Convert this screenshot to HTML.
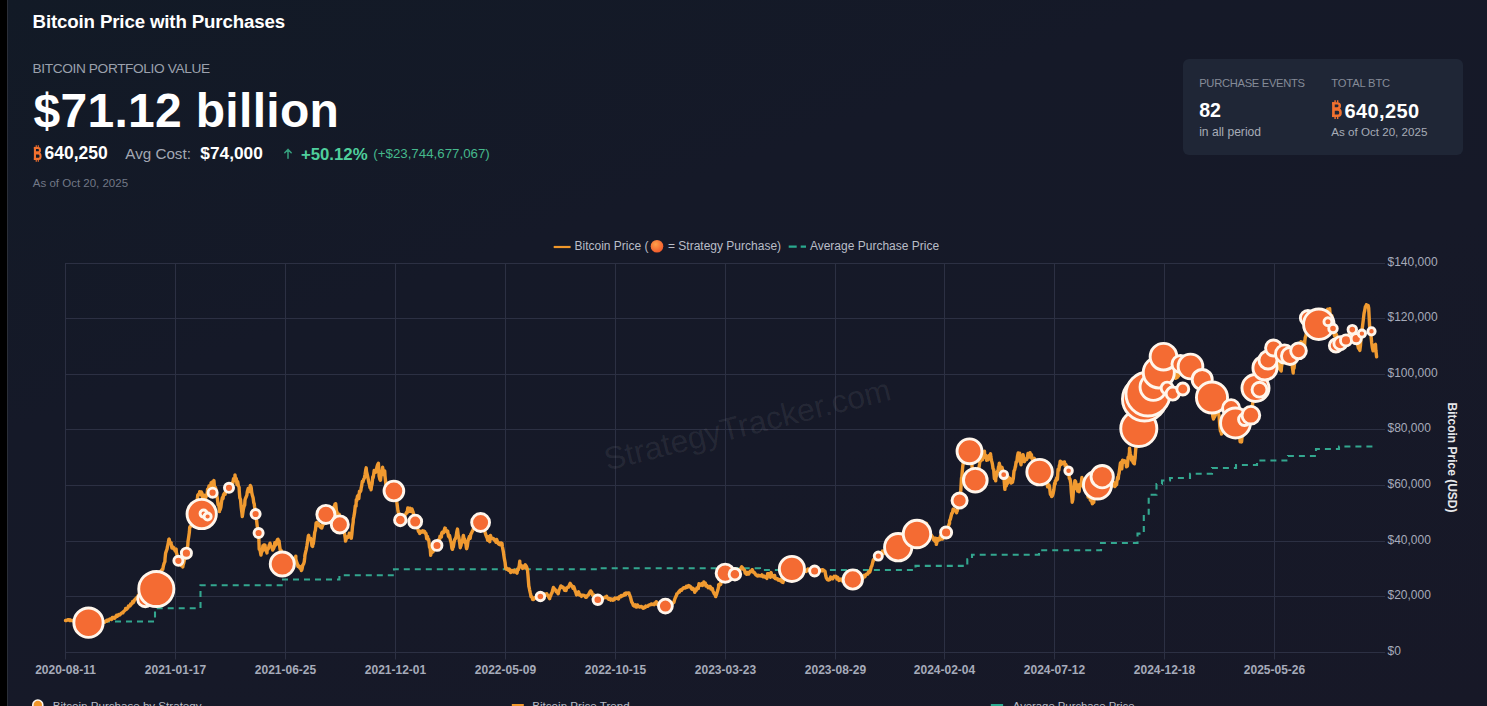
<!DOCTYPE html>
<html><head><meta charset="utf-8"><style>
html,body{margin:0;padding:0;}
body{width:1487px;height:706px;overflow:hidden;background:#161929;background-image:linear-gradient(160deg,#121a26 0%,#151928 35%,#161928 60%,#171827 100%);position:relative;font-family:"Liberation Sans",sans-serif;}
.strip{position:absolute;left:0;top:0;width:7px;height:706px;background:#000;}
.edge{position:absolute;left:7px;top:0;width:1px;height:706px;background:#2a2e38;}
.t{position:absolute;white-space:nowrap;line-height:1;}
.card{position:absolute;left:1183px;top:59px;width:280px;height:96px;border-radius:6px;background:#1f2636;}
</style></head><body>
<div class="strip"></div><div class="edge"></div>
<div class="t" style="left:32.6px;top:13px;font-size:18.7px;letter-spacing:-0.15px;font-weight:bold;color:#ffffff">Bitcoin Price with Purchases</div>
<div class="t" style="left:32.6px;top:62px;font-size:13.7px;letter-spacing:-0.38px;color:#9ba1ad">BITCOIN PORTFOLIO VALUE</div>
<div class="t" style="left:33.5px;top:87px;font-size:48px;letter-spacing:0.3px;font-weight:bold;color:#ffffff">$71.12 billion</div>
<svg style="position:absolute;left:32.8px;top:144.8px" width="8.8" height="16.9" viewBox="0 0 10 18" preserveAspectRatio="none"><g fill="none" stroke="#f2712f" stroke-linecap="butt"><path d="M2.2 2 V16" stroke-width="2.4"/><path d="M1 3.15 H5.8 Q7.9 3.15 7.9 5.5 Q7.9 7.9 5.8 7.9 H2.2 M2.2 9 H6.2 Q8.6 9 8.6 11.9 Q8.6 14.85 6.2 14.85 H1" stroke-width="2.3"/><path d="M3.7 0.2 V2.5 M6 0.2 V2.5 M3.7 15.5 V17.8 M6 15.5 V17.8" stroke-width="1.3"/></g></svg>
<div class="t" style="left:44.5px;top:145px;font-size:17.5px;font-weight:bold;color:#ffffff">640,250</div>
<div class="t" style="left:125.3px;top:146px;font-size:15.2px;color:#a3a8b3">Avg Cost:</div>
<div class="t" style="left:200.3px;top:145px;font-size:17.3px;font-weight:bold;color:#ffffff">$74,000</div>
<svg style="position:absolute;left:280px;top:144px" width="16" height="18"><path d="M8 14.2 V5.5 M4.8 8.8 L8 5.4 L11.2 8.8" fill="none" stroke="#36a07e" stroke-width="1.5" stroke-linecap="round" stroke-linejoin="round"/></svg>
<div class="t" style="left:300.9px;top:146.5px;font-size:16.8px;font-weight:bold;color:#4fcf9c">+50.12%</div>
<div class="t" style="left:373.3px;top:147px;font-size:13.3px;color:#45b88c">(+$23,744,677,067)</div>
<div class="t" style="left:32.8px;top:178px;font-size:11.5px;color:#727886">As of Oct 20, 2025</div>
<div class="card"></div>
<div class="t" style="left:1199.2px;top:78px;font-size:11.2px;letter-spacing:-0.3px;color:#858b98">PURCHASE EVENTS</div>
<div class="t" style="left:1331.3px;top:78px;font-size:11.2px;letter-spacing:-0.15px;color:#858b98">TOTAL BTC</div>
<div class="t" style="left:1199.2px;top:101px;font-size:19.6px;font-weight:bold;color:#ffffff">82</div>
<svg style="position:absolute;left:1331.3px;top:100.4px" width="11.1" height="19.2" viewBox="0 0 10 18" preserveAspectRatio="none"><g fill="none" stroke="#f2712f" stroke-linecap="butt"><path d="M2.2 2 V16" stroke-width="2.4"/><path d="M1 3.15 H5.8 Q7.9 3.15 7.9 5.5 Q7.9 7.9 5.8 7.9 H2.2 M2.2 9 H6.2 Q8.6 9 8.6 11.9 Q8.6 14.85 6.2 14.85 H1" stroke-width="2.3"/><path d="M3.7 0.2 V2.5 M6 0.2 V2.5 M3.7 15.5 V17.8 M6 15.5 V17.8" stroke-width="1.3"/></g></svg>
<div class="t" style="left:1344.5px;top:101px;font-size:20px;letter-spacing:0.4px;font-weight:bold;color:#ffffff">640,250</div>
<div class="t" style="left:1199.2px;top:126px;font-size:12.1px;color:#a7acb7">in all period</div>
<div class="t" style="left:1331.3px;top:126px;font-size:11.6px;color:#a7acb7">As of Oct 20, 2025</div>
<svg width="1487" height="706" viewBox="0 0 1487 706" style="position:absolute;left:0;top:0"><line x1="65" y1="263.5" x2="1385" y2="263.5" stroke="#2c3043" stroke-width="1"/><line x1="65" y1="318.5" x2="1385" y2="318.5" stroke="#2c3043" stroke-width="1"/><line x1="65" y1="374.5" x2="1385" y2="374.5" stroke="#2c3043" stroke-width="1"/><line x1="65" y1="429.5" x2="1385" y2="429.5" stroke="#2c3043" stroke-width="1"/><line x1="65" y1="485.5" x2="1385" y2="485.5" stroke="#2c3043" stroke-width="1"/><line x1="65" y1="541.5" x2="1385" y2="541.5" stroke="#2c3043" stroke-width="1"/><line x1="65" y1="596.5" x2="1385" y2="596.5" stroke="#2c3043" stroke-width="1"/><line x1="65" y1="652.5" x2="1385" y2="652.5" stroke="#2c3043" stroke-width="1"/><line x1="65.5" y1="263" x2="65.5" y2="659.5" stroke="#2c3043" stroke-width="1"/><line x1="175.5" y1="263" x2="175.5" y2="659.5" stroke="#2c3043" stroke-width="1"/><line x1="285.5" y1="263" x2="285.5" y2="659.5" stroke="#2c3043" stroke-width="1"/><line x1="395.5" y1="263" x2="395.5" y2="659.5" stroke="#2c3043" stroke-width="1"/><line x1="505.5" y1="263" x2="505.5" y2="659.5" stroke="#2c3043" stroke-width="1"/><line x1="615.5" y1="263" x2="615.5" y2="659.5" stroke="#2c3043" stroke-width="1"/><line x1="725.5" y1="263" x2="725.5" y2="659.5" stroke="#2c3043" stroke-width="1"/><line x1="835.5" y1="263" x2="835.5" y2="659.5" stroke="#2c3043" stroke-width="1"/><line x1="944.5" y1="263" x2="944.5" y2="659.5" stroke="#2c3043" stroke-width="1"/><line x1="1054.5" y1="263" x2="1054.5" y2="659.5" stroke="#2c3043" stroke-width="1"/><line x1="1164.5" y1="263" x2="1164.5" y2="659.5" stroke="#2c3043" stroke-width="1"/><line x1="1274.5" y1="263" x2="1274.5" y2="659.5" stroke="#2c3043" stroke-width="1"/><text x="750" y="435" transform="rotate(-14 750 435)" text-anchor="middle" font-family="Liberation Sans" font-size="32" fill="#ffffff" fill-opacity="0.07">StrategyTracker.com</text><text x="1387.5" y="265.9" font-family="Liberation Sans" font-size="12" fill="#a6abba">$140,000</text><text x="1387.5" y="320.9" font-family="Liberation Sans" font-size="12" fill="#a6abba">$120,000</text><text x="1387.5" y="376.9" font-family="Liberation Sans" font-size="12" fill="#a6abba">$100,000</text><text x="1387.5" y="431.9" font-family="Liberation Sans" font-size="12" fill="#a6abba">$80,000</text><text x="1387.5" y="487.9" font-family="Liberation Sans" font-size="12" fill="#a6abba">$60,000</text><text x="1387.5" y="543.9" font-family="Liberation Sans" font-size="12" fill="#a6abba">$40,000</text><text x="1387.5" y="598.9" font-family="Liberation Sans" font-size="12" fill="#a6abba">$20,000</text><text x="1387.5" y="654.9" font-family="Liberation Sans" font-size="12" fill="#a6abba">$0</text><text x="65.5" y="673.8" text-anchor="middle" font-family="Liberation Sans" font-size="12" font-weight="bold" fill="#a6abba">2020-08-11</text><text x="175.5" y="673.8" text-anchor="middle" font-family="Liberation Sans" font-size="12" font-weight="bold" fill="#a6abba">2021-01-17</text><text x="285.5" y="673.8" text-anchor="middle" font-family="Liberation Sans" font-size="12" font-weight="bold" fill="#a6abba">2021-06-25</text><text x="395.5" y="673.8" text-anchor="middle" font-family="Liberation Sans" font-size="12" font-weight="bold" fill="#a6abba">2021-12-01</text><text x="505.5" y="673.8" text-anchor="middle" font-family="Liberation Sans" font-size="12" font-weight="bold" fill="#a6abba">2022-05-09</text><text x="615.5" y="673.8" text-anchor="middle" font-family="Liberation Sans" font-size="12" font-weight="bold" fill="#a6abba">2022-10-15</text><text x="725.5" y="673.8" text-anchor="middle" font-family="Liberation Sans" font-size="12" font-weight="bold" fill="#a6abba">2023-03-23</text><text x="835.5" y="673.8" text-anchor="middle" font-family="Liberation Sans" font-size="12" font-weight="bold" fill="#a6abba">2023-08-29</text><text x="944.5" y="673.8" text-anchor="middle" font-family="Liberation Sans" font-size="12" font-weight="bold" fill="#a6abba">2024-02-04</text><text x="1054.5" y="673.8" text-anchor="middle" font-family="Liberation Sans" font-size="12" font-weight="bold" fill="#a6abba">2024-07-12</text><text x="1164.5" y="673.8" text-anchor="middle" font-family="Liberation Sans" font-size="12" font-weight="bold" fill="#a6abba">2024-12-18</text><text x="1274.5" y="673.8" text-anchor="middle" font-family="Liberation Sans" font-size="12" font-weight="bold" fill="#a6abba">2025-05-26</text><text x="1451.5" y="457.5" transform="rotate(90 1451.5 457.5)" text-anchor="middle" dominant-baseline="central" font-family="Liberation Sans" font-size="12" font-weight="bold" fill="#e6e7ea">Bitcoin Price (USD)</text><polyline points="104.0,621.5 155.0,621.5 155.0,608.2 200.5,608.2 200.5,585.2 283.0,585.2 283.0,579.5 339.4,579.5 339.4,575.3 394.0,575.3 394.0,569.3 600.0,569.3 600.0,568.2 760.0,568.2 760.0,570.0 915.5,570.0 915.5,565.9 967.3,565.9 967.3,559.2 972.0,559.2 972.0,554.8 1039.0,554.8 1039.0,550.3 1101.0,550.3 1101.0,543.0 1137.5,543.0 1137.5,533.6 1143.8,533.6 1143.8,513.8 1148.7,513.8 1148.7,494.7 1156.5,494.7 1156.5,484.0 1162.0,484.0 1162.0,480.5 1170.0,480.5 1170.0,478.0 1190.0,478.0 1190.0,473.8 1212.0,473.8 1212.0,468.0 1236.0,468.0 1236.0,465.0 1257.0,465.0 1257.0,460.5 1288.0,460.5 1288.0,456.0 1316.0,456.0 1316.0,449.0 1339.0,449.0 1339.0,446.5 1374.5,446.5" fill="none" stroke="#33a78f" stroke-width="2.1" stroke-dasharray="6 5"/><polyline points="65.5,620.4 65.5,620.5 66.2,620.6 66.9,620.2 67.6,620.0 68.3,619.6 69.0,619.8 69.7,620.4 70.0,619.8 70.4,620.1 71.1,620.6 71.8,620.5 72.5,620.7 73.2,620.9 73.9,620.1 74.0,621.0 74.6,621.5 75.3,621.4 76.0,621.4 76.7,620.4 77.4,620.4 78.1,620.9 78.8,621.2 79.5,621.6 80.0,621.5 80.2,621.5 80.9,621.8 81.6,621.3 82.3,621.8 83.0,621.9 83.7,621.4 84.4,622.6 85.1,622.1 85.8,622.5 86.5,621.6 87.2,621.6 87.9,621.8 88.0,622.0 88.6,621.9 89.3,622.2 90.0,622.0 90.7,621.6 91.4,621.3 92.1,621.5 92.8,622.3 93.5,621.3 94.2,621.7 94.9,621.8 95.6,620.8 96.0,621.5 96.3,621.5 97.0,622.0 97.7,620.3 98.4,621.0 99.1,621.1 99.8,620.6 100.0,621.0 100.5,621.3 101.2,621.1 101.9,620.5 102.6,621.7 103.3,621.7 104.0,621.9 104.7,622.2 105.1,621.5 105.4,621.6 106.1,621.2 106.8,620.2 107.5,620.9 108.2,620.0 108.9,619.8 109.0,620.0 109.6,619.1 110.3,618.9 111.0,618.8 111.7,619.4 112.4,617.4 112.7,618.3 113.1,617.4 113.8,618.0 114.5,618.3 115.2,617.6 115.9,616.1 116.0,617.0 116.6,615.3 117.3,616.3 118.0,615.2 118.7,614.5 119.4,615.1 120.1,614.7 120.4,613.9 120.8,613.7 121.5,613.2 122.2,612.8 122.9,612.9 123.0,612.0 123.6,611.7 124.3,610.9 125.0,610.2 125.5,609.4 125.7,608.4 126.4,609.4 127.1,608.7 127.8,607.9 128.0,607.5 128.5,606.0 129.2,606.0 129.9,606.1 130.6,605.0 130.6,604.0 131.3,604.0 132.0,603.8 132.7,601.6 133.4,602.5 134.1,600.9 134.8,599.6 135.5,599.1 135.7,598.6 136.2,598.5 136.9,597.4 137.6,597.3 138.3,595.4 139.0,594.8 139.7,595.0 140.0,594.0 140.4,593.7 141.1,592.5 141.8,593.2 142.5,593.1 143.2,591.1 143.9,589.9 144.6,590.2 145.0,590.0 145.3,589.6 146.0,588.8 146.7,589.4 147.4,586.8 148.1,587.9 148.8,585.2 149.5,584.9 150.0,585.0 150.2,585.3 150.9,584.9 151.6,583.8 152.3,582.6 153.0,581.6 153.7,580.8 154.4,580.4 155.1,578.9 155.8,578.5 156.0,578.0 156.5,577.9 157.2,576.5 157.9,576.3 158.6,575.3 159.3,575.8 160.0,573.3 160.0,573.0 160.7,571.4 161.4,570.3 162.1,569.5 162.8,569.3 163.0,568.0 163.5,565.4 164.2,563.1 164.9,561.6 165.0,559.1 165.6,553.1 166.3,551.2 167.0,549.2 167.5,546.4 167.7,545.9 168.4,542.2 168.9,539.3 169.1,539.1 169.8,541.9 170.5,542.7 171.2,542.9 171.3,543.8 171.9,548.1 172.6,546.9 173.3,547.1 173.9,549.0 174.0,549.0 174.7,549.9 175.4,551.1 176.1,549.0 176.4,552.7 176.8,553.9 177.5,558.8 177.8,559.0 178.2,558.2 178.9,560.4 179.6,562.5 180.0,562.0 180.3,563.5 181.0,565.4 181.7,563.3 182.4,565.9 182.8,567.0 183.1,565.1 183.8,562.7 184.5,559.7 185.0,556.0 185.2,552.1 185.9,553.9 186.6,548.1 187.3,548.1 187.8,545.3 188.0,541.5 188.7,537.1 189.4,532.0 189.7,527.4 190.1,526.6 190.8,526.1 191.5,526.0 192.2,523.9 192.9,522.5 193.6,524.0 193.7,521.5 194.3,519.3 195.0,512.6 195.7,513.3 196.4,502.0 197.1,501.2 197.7,495.7 197.8,495.0 198.5,494.4 199.2,494.0 199.7,491.7 199.9,492.5 200.6,494.7 201.3,491.9 202.0,493.3 202.7,498.6 203.4,497.1 204.0,500.0 204.1,497.9 204.8,495.3 205.5,498.6 206.2,495.9 206.9,495.6 207.6,489.2 208.0,490.0 208.3,489.5 209.0,486.0 209.7,488.5 210.4,488.9 211.1,482.7 211.8,486.4 212.5,484.0 212.6,481.8 213.2,482.7 213.9,480.5 214.6,488.7 215.3,487.2 215.5,487.8 216.0,489.4 216.7,495.1 217.4,498.9 218.1,504.7 218.8,504.0 219.5,511.5 219.5,509.6 220.2,509.6 220.9,507.0 221.6,501.5 222.3,497.8 223.0,498.5 223.5,494.7 223.7,494.5 224.4,493.2 225.1,494.4 225.8,489.9 226.0,490.0 226.5,485.2 227.2,488.4 227.9,485.0 228.6,489.7 229.0,487.8 229.3,487.9 230.0,485.0 230.7,485.1 231.4,485.6 232.0,483.0 232.1,482.9 232.8,483.6 233.5,478.8 234.2,479.2 234.9,478.3 235.0,474.9 235.6,480.6 236.3,478.6 237.0,484.5 237.7,481.7 238.4,486.1 239.1,487.1 239.3,491.7 239.8,497.8 240.5,499.4 241.2,507.4 241.9,512.9 242.3,516.5 242.6,514.6 243.3,509.4 244.0,506.5 244.7,505.1 245.0,500.0 245.4,498.6 246.1,497.0 246.8,495.4 247.3,491.7 247.5,491.1 248.2,488.4 248.9,489.0 249.6,491.5 250.3,485.5 251.0,486.8 251.2,487.8 251.7,492.4 252.4,495.6 253.1,497.8 253.8,502.9 254.2,503.6 254.5,506.3 255.2,509.6 255.9,514.7 256.0,518.0 256.6,520.5 257.3,526.9 258.0,528.7 258.6,533.0 258.7,534.5 259.2,549.3 259.4,549.0 260.1,550.3 260.8,554.2 261.0,555.0 261.5,551.9 262.2,551.4 262.9,545.7 263.6,546.7 264.0,545.0 264.3,545.0 265.0,545.2 265.7,550.4 266.4,551.1 267.0,553.0 267.1,550.0 267.8,549.3 268.5,548.5 269.2,545.2 269.9,544.5 270.0,543.2 270.6,545.3 271.3,546.6 272.0,547.5 272.7,550.1 273.0,549.0 273.4,549.0 274.1,547.4 274.8,542.8 275.5,545.3 276.2,544.4 276.9,541.0 277.6,539.4 278.0,539.2 278.3,543.0 279.0,540.8 279.7,546.5 280.4,551.6 281.0,551.0 281.1,550.2 281.8,554.7 282.5,558.7 283.2,558.9 283.9,562.2 284.0,562.0 284.6,563.0 285.3,561.0 286.0,561.9 286.7,562.3 287.4,562.9 288.1,562.0 288.8,561.8 289.5,560.9 290.0,562.0 290.2,561.5 290.9,562.5 291.6,561.3 292.3,559.9 293.0,559.5 293.7,563.0 294.4,561.0 295.1,560.1 295.8,556.1 295.8,559.0 296.5,561.6 297.2,563.3 297.9,566.5 298.0,565.0 298.6,566.3 299.3,566.7 300.0,568.2 300.7,566.7 301.4,570.6 301.7,570.0 302.1,568.7 302.8,564.9 303.5,564.2 304.2,562.0 304.7,558.0 304.9,555.3 305.6,552.1 306.3,549.3 307.0,545.2 307.7,540.4 308.4,535.7 308.7,535.3 309.1,539.3 309.8,539.5 310.5,538.3 311.2,539.9 311.9,545.6 312.6,546.5 312.6,545.2 313.3,543.8 314.0,538.7 314.7,532.5 315.4,530.3 316.1,522.9 316.6,523.4 316.8,522.4 317.5,524.0 318.2,525.4 318.9,524.1 319.6,525.6 320.3,527.0 321.0,527.4 321.6,527.3 321.7,528.1 322.4,526.0 323.1,523.8 323.8,524.1 324.5,521.5 325.2,518.7 325.9,517.6 326.6,517.2 327.3,515.6 327.5,515.4 328.0,514.9 328.7,513.5 329.4,512.8 330.1,511.2 330.8,508.2 331.0,510.0 331.5,510.2 332.2,510.6 332.9,508.8 333.6,507.0 334.3,507.4 335.0,504.2 335.4,505.5 335.7,503.7 336.4,510.6 337.1,512.4 337.4,515.4 337.8,517.3 338.5,515.5 339.2,514.2 339.9,517.9 340.6,523.2 341.3,521.3 342.0,520.9 342.7,523.1 343.4,526.2 343.4,525.4 344.1,531.0 344.8,535.3 345.4,539.2 345.5,541.1 346.2,539.0 346.9,536.9 347.6,536.7 348.3,537.1 349.0,535.1 349.3,533.3 349.7,535.7 350.4,534.5 351.1,537.5 351.3,538.2 351.8,534.5 352.5,526.5 353.2,522.0 353.3,519.4 353.9,516.4 354.6,512.4 355.3,505.8 356.0,506.2 356.3,499.6 356.7,500.9 357.4,496.5 358.1,495.4 358.8,498.5 359.5,491.2 360.2,491.8 360.9,490.4 361.2,487.7 361.6,486.3 362.3,481.5 363.0,481.8 363.2,480.7 363.7,479.3 364.4,477.9 365.1,474.2 365.8,469.6 366.2,467.8 366.5,471.3 367.2,474.4 367.9,477.6 368.6,481.1 369.1,483.7 369.3,483.8 370.0,487.8 370.7,486.4 371.1,489.7 371.4,486.7 372.1,483.8 372.8,476.6 373.1,477.8 373.5,475.8 374.2,470.5 374.9,471.3 375.6,472.1 376.3,470.1 377.0,466.8 377.7,464.5 378.1,463.9 378.4,463.3 379.1,476.2 379.8,479.1 380.0,479.7 380.5,480.3 381.2,473.9 381.9,473.0 382.6,467.2 383.0,469.8 383.3,472.4 384.0,474.8 384.7,470.9 385.0,475.8 385.4,479.7 386.0,485.7 386.1,487.1 386.8,483.1 387.5,483.7 388.2,486.0 388.9,487.6 389.6,486.8 390.0,490.0 390.3,490.2 391.0,491.0 391.7,492.1 392.4,492.6 393.1,494.4 393.8,494.1 394.0,492.0 394.5,491.4 395.2,495.5 395.9,497.1 396.6,499.6 396.9,502.7 397.3,505.7 397.9,510.6 398.0,511.0 398.7,514.5 399.4,513.9 400.1,517.2 400.3,520.0 400.8,519.4 401.5,518.4 402.2,517.5 402.9,517.1 403.6,515.3 404.3,516.9 405.0,515.6 405.0,515.0 405.7,514.2 406.4,512.6 407.1,512.8 407.8,507.9 408.5,510.1 409.2,511.2 409.8,510.6 409.9,508.1 410.6,511.2 411.3,511.3 412.0,509.0 412.7,511.1 412.8,511.6 413.4,513.6 414.1,517.8 414.8,520.9 415.2,521.6 415.5,522.3 416.2,522.9 416.9,525.9 417.6,527.8 418.3,530.9 419.0,532.1 419.7,532.5 419.7,533.5 420.4,531.3 421.1,532.4 421.8,531.6 422.5,530.8 423.2,531.9 423.9,531.1 424.6,531.7 424.7,531.5 425.3,533.4 426.0,533.5 426.7,538.7 427.4,536.4 428.1,539.7 428.7,539.4 428.8,540.4 429.5,547.2 430.2,548.5 430.7,555.3 430.9,553.8 431.6,552.8 432.3,551.0 432.6,549.3 433.0,551.8 433.7,548.7 434.4,549.3 435.1,548.0 435.8,547.7 436.5,546.5 437.0,545.4 437.2,544.7 437.9,543.7 438.6,539.8 439.3,541.0 440.0,536.2 440.7,536.2 441.4,537.0 441.6,533.5 442.1,532.5 442.8,532.0 443.5,532.8 444.2,530.2 444.9,528.1 445.5,528.5 445.6,529.1 446.3,530.7 447.0,532.1 447.7,531.2 448.4,536.0 449.1,537.1 449.5,535.4 449.8,536.8 450.5,540.4 451.2,542.7 451.9,548.3 452.5,549.3 452.6,548.0 453.3,546.9 454.0,542.6 454.7,539.5 455.4,538.6 456.1,536.6 456.8,531.9 457.4,529.5 457.5,529.1 458.2,535.1 458.9,537.8 459.6,542.2 460.3,547.7 460.4,546.3 461.0,545.6 461.7,540.9 462.4,542.1 463.1,536.5 463.4,535.4 463.8,538.1 464.5,539.0 465.2,542.7 465.9,543.4 466.3,547.3 466.6,548.7 467.3,546.3 468.0,541.0 468.7,538.7 469.4,536.5 470.1,538.4 470.8,534.2 471.3,533.5 471.5,533.1 472.2,531.4 472.9,530.4 473.6,527.7 474.3,528.1 475.0,524.6 475.7,525.4 476.0,525.0 476.4,525.3 477.1,525.1 477.8,523.7 478.5,522.2 479.2,523.5 479.9,522.1 480.6,524.9 480.6,522.5 481.3,525.2 482.0,525.4 482.7,526.4 483.4,527.6 484.0,530.0 484.1,528.9 484.8,531.3 485.5,533.9 486.2,535.8 486.9,537.5 487.2,537.4 487.6,540.4 488.3,536.6 489.0,537.7 489.7,541.7 490.4,535.4 491.1,537.3 491.8,538.4 492.5,538.5 493.1,538.4 493.2,539.1 493.9,538.9 494.6,540.4 495.3,540.7 496.0,542.3 496.7,539.5 497.4,541.5 498.1,543.4 498.8,542.8 499.1,544.4 499.5,542.9 500.2,544.8 500.9,542.9 501.6,544.4 502.0,543.4 502.3,546.2 503.0,549.9 503.5,552.6 503.7,554.6 504.4,558.9 505.1,562.5 505.7,568.2 505.8,568.2 506.5,569.1 507.2,568.4 507.9,569.2 508.5,569.6 508.6,570.4 509.3,569.1 510.0,571.0 510.7,572.5 511.3,571.0 511.4,570.4 512.1,570.9 512.8,570.5 513.5,572.0 514.2,570.6 514.2,570.3 514.9,571.9 515.6,571.0 516.3,572.4 517.0,573.1 517.0,573.1 517.7,568.9 518.4,569.6 519.1,566.6 519.8,561.3 519.8,563.2 520.5,565.2 521.2,565.5 521.9,567.3 522.6,568.4 522.7,568.2 523.3,566.1 524.0,566.6 524.7,567.7 525.4,564.8 525.5,565.3 526.1,565.9 526.8,567.5 527.5,569.5 527.6,571.0 528.2,578.0 528.9,586.8 529.0,586.6 529.6,589.8 530.3,592.9 530.5,593.7 531.0,596.6 531.7,596.6 532.4,598.4 532.6,599.4 533.1,599.5 533.8,599.3 534.5,598.0 535.2,597.6 535.9,598.2 536.0,598.0 536.6,598.0 537.3,596.7 538.0,597.2 538.7,596.7 539.4,597.1 540.1,596.5 540.4,596.5 540.8,596.3 541.5,595.8 542.2,596.5 542.9,596.4 543.6,594.9 544.0,595.0 544.3,595.4 545.0,594.0 545.7,594.3 546.4,594.4 546.8,593.7 547.1,595.3 547.8,595.2 548.5,596.6 549.2,598.0 549.6,598.6 549.9,596.9 550.6,596.1 551.3,593.8 552.0,592.8 552.7,589.9 553.4,587.5 553.8,588.0 554.1,588.4 554.8,589.5 555.5,589.8 556.2,591.8 556.9,591.9 557.6,592.6 558.1,593.7 558.3,593.5 559.0,590.0 559.7,588.7 560.4,587.3 560.9,585.9 561.1,586.7 561.8,586.5 562.5,587.4 563.2,587.3 563.9,588.6 564.6,590.2 565.2,589.4 565.3,588.8 566.0,590.5 566.7,587.6 567.4,587.5 568.1,587.0 568.8,587.1 569.5,584.7 570.2,583.4 570.9,585.0 570.9,584.5 571.6,585.7 572.3,586.0 573.0,588.2 573.7,586.8 573.7,586.6 574.4,588.6 575.1,590.8 575.8,592.2 576.5,594.9 576.5,593.7 577.2,593.0 577.9,593.8 578.6,591.8 579.3,594.9 580.0,594.3 580.7,595.4 581.4,596.4 582.1,595.1 582.2,595.1 582.8,595.2 583.5,595.4 584.2,595.5 584.9,596.0 585.6,597.2 586.3,597.2 586.4,597.2 587.0,596.4 587.7,595.2 588.4,594.9 589.1,593.6 589.8,592.1 590.5,591.7 590.7,590.9 591.2,591.8 591.9,592.5 592.1,593.7 592.6,595.2 593.3,595.3 594.0,595.1 594.7,597.2 595.4,597.5 596.1,597.0 596.8,599.8 597.5,599.7 597.8,599.8 598.2,600.2 598.9,599.5 599.6,599.0 600.3,597.9 601.0,599.3 601.7,598.4 602.4,597.9 603.1,598.1 603.8,597.7 604.5,597.8 604.9,597.2 605.2,597.1 605.9,597.5 606.6,596.3 607.3,597.7 608.0,598.6 608.7,599.3 609.4,598.4 610.1,598.8 610.8,600.1 611.5,599.1 611.9,599.4 612.2,599.8 612.9,600.2 613.6,599.0 614.3,599.6 615.0,598.1 615.7,598.5 616.4,598.2 617.1,598.1 617.6,597.9 617.8,598.5 618.5,599.0 619.2,596.7 619.9,596.4 620.6,596.8 621.3,595.4 622.0,596.1 622.7,595.8 623.3,595.1 623.4,594.9 624.1,595.2 624.8,593.5 625.5,594.8 626.2,593.0 626.9,593.3 627.6,593.1 628.3,593.0 629.0,593.0 629.0,593.6 629.7,595.2 630.4,597.0 631.1,599.4 631.1,599.7 631.8,602.2 632.5,603.1 633.2,605.0 633.2,605.2 633.9,605.9 634.6,605.5 635.3,604.8 636.0,605.7 636.0,607.1 636.7,607.1 637.4,604.9 638.1,606.1 638.8,606.5 639.5,606.9 640.0,606.5 640.2,606.9 640.9,606.7 641.6,606.5 642.3,607.3 643.0,608.1 643.7,607.2 644.2,607.9 644.4,607.3 645.1,607.4 645.8,606.1 646.5,606.6 647.2,606.2 647.9,606.3 648.6,605.3 649.3,604.9 650.0,604.8 650.7,604.7 651.3,604.4 651.4,604.0 652.1,604.2 652.8,604.5 653.5,604.5 654.2,604.7 654.9,603.0 655.6,603.1 656.3,601.7 656.9,603.0 657.0,604.2 657.7,603.0 658.4,603.7 659.1,604.4 659.8,603.6 660.5,605.0 661.0,605.0 661.2,605.0 661.9,604.2 662.6,605.6 663.3,606.2 664.0,604.7 664.7,606.4 665.4,606.1 665.4,606.2 666.1,606.0 666.8,605.5 667.5,605.6 668.2,604.3 668.9,604.6 669.0,604.0 669.6,603.6 670.3,604.0 671.0,602.8 671.7,603.0 672.4,603.8 673.1,602.8 673.8,602.2 673.9,602.3 674.5,599.8 675.2,598.0 675.9,596.6 676.6,595.0 676.8,593.8 677.3,593.6 678.0,592.9 678.7,591.8 679.4,592.1 679.6,590.9 680.1,590.3 680.8,589.7 681.5,590.3 682.2,589.2 682.9,588.5 683.6,587.8 683.8,588.1 684.3,587.7 685.0,588.1 685.7,587.7 686.4,586.2 687.1,587.2 687.8,586.8 688.5,585.6 689.2,586.7 689.5,586.0 689.9,586.1 690.6,586.7 691.3,588.2 692.0,589.2 692.7,588.2 693.4,589.7 694.1,589.3 694.8,592.3 695.2,590.9 695.5,590.1 696.2,590.5 696.9,588.1 697.6,588.3 698.3,588.5 699.0,583.8 699.4,585.3 699.7,584.8 700.4,585.2 701.1,584.4 701.8,583.5 702.5,585.5 703.2,583.4 703.7,583.1 703.9,581.9 704.6,584.6 705.3,583.1 706.0,586.0 706.7,585.2 707.4,586.4 707.9,586.7 708.1,587.8 708.8,587.2 709.5,586.4 710.2,586.5 710.9,589.1 711.6,589.1 712.2,588.8 712.3,588.4 713.0,591.2 713.7,592.5 714.4,594.2 715.1,593.7 715.7,596.6 715.8,596.1 716.5,594.5 717.2,592.0 717.9,589.8 718.6,586.7 718.6,584.8 719.3,585.4 720.0,584.2 720.7,582.4 720.7,584.5 721.4,580.2 722.1,579.3 722.8,578.1 723.5,577.5 724.2,574.8 724.9,574.9 725.2,573.2 725.6,572.4 726.3,573.2 727.0,572.2 727.7,572.7 728.4,571.7 729.1,570.7 729.8,573.1 730.0,572.0 730.5,572.5 731.2,572.0 731.9,573.0 732.6,574.1 733.3,572.6 734.0,573.7 734.7,574.6 734.9,574.2 735.4,574.2 736.1,572.8 736.8,570.4 737.5,573.0 738.2,571.5 738.9,570.5 739.6,569.6 740.3,569.4 741.0,568.1 741.7,566.8 742.0,567.6 742.4,567.5 743.1,568.7 743.8,569.7 744.5,570.2 745.2,573.0 745.9,572.2 746.2,573.9 746.6,574.3 747.3,572.4 748.0,573.3 748.7,574.0 749.4,572.5 750.1,571.3 750.8,571.7 751.5,571.4 751.9,571.1 752.2,569.6 752.9,571.3 753.6,572.5 754.3,572.5 755.0,573.5 755.7,574.6 756.4,575.2 757.1,575.8 757.5,575.3 757.8,575.9 758.5,575.3 759.2,575.7 759.9,575.7 760.6,575.8 761.3,576.1 762.0,574.9 762.7,576.4 763.2,576.8 763.4,576.8 764.1,576.0 764.8,576.9 765.5,577.4 766.0,577.0 766.2,576.7 766.9,578.4 767.6,573.8 768.3,575.6 769.0,573.8 769.7,576.0 770.4,577.2 770.6,574.6 771.1,572.6 771.8,575.6 772.5,576.4 773.2,576.1 773.9,577.4 774.6,575.4 775.3,578.6 775.6,578.1 776.0,578.7 776.7,578.8 777.4,578.7 778.1,580.1 778.8,579.6 779.5,580.6 780.2,580.4 780.9,579.3 781.6,581.6 782.3,582.2 782.7,582.3 783.0,582.4 783.7,579.9 784.4,579.4 785.1,578.8 785.8,577.2 786.5,577.0 787.0,575.0 787.2,576.6 787.9,573.0 788.6,571.2 789.3,573.0 790.0,572.7 790.7,571.3 791.4,570.3 791.9,568.9 792.1,568.4 792.8,568.5 793.5,570.4 794.2,568.9 794.9,568.3 795.6,569.3 796.3,573.0 797.0,572.7 797.7,570.5 798.4,570.7 799.1,571.9 799.8,571.2 800.0,572.0 800.5,573.2 801.2,571.8 801.9,570.7 802.6,572.9 803.3,571.0 804.0,571.6 804.7,571.3 805.4,570.9 806.1,571.4 806.8,570.4 807.0,571.0 807.5,569.2 808.2,568.9 808.9,569.8 809.6,570.3 810.3,571.0 811.0,571.1 811.7,571.5 812.4,571.1 813.1,570.2 813.8,570.3 814.5,568.9 814.6,571.0 815.2,570.7 815.9,571.2 816.6,571.2 817.3,570.4 818.0,570.2 818.7,571.2 819.4,570.1 820.1,570.7 820.8,570.4 821.5,570.0 822.2,570.9 822.3,569.6 822.9,569.6 823.6,570.5 824.3,570.8 825.0,571.4 825.2,572.4 825.7,575.5 826.4,578.1 827.1,578.8 827.3,579.5 827.8,579.8 828.5,580.1 829.2,579.5 829.9,579.6 830.6,577.1 830.9,578.1 831.3,577.4 832.0,578.1 832.7,578.8 833.4,577.4 834.1,576.3 834.8,576.5 835.1,576.7 835.5,576.3 836.2,576.5 836.9,578.9 837.6,577.4 838.3,578.3 839.0,580.5 839.7,580.0 840.4,579.6 840.8,579.5 841.1,579.0 841.8,580.0 842.5,581.1 843.2,580.3 843.9,580.9 844.6,580.0 845.3,580.4 846.0,580.0 846.0,579.8 846.7,580.3 847.4,581.0 848.1,578.6 848.8,579.7 849.5,580.0 850.2,579.2 850.9,579.4 851.6,580.3 852.3,581.3 852.8,579.5 853.0,580.0 853.7,579.5 854.4,577.7 855.1,580.5 855.8,578.7 856.5,578.4 857.2,577.2 857.9,578.0 858.0,578.0 858.6,576.9 859.3,577.8 860.0,578.0 860.7,577.5 861.4,577.6 862.1,576.5 862.8,578.4 863.5,576.4 864.2,575.2 864.9,576.7 864.9,576.5 865.6,575.3 866.3,574.3 867.0,574.2 867.7,574.1 868.4,572.0 869.1,572.4 869.1,572.3 869.8,572.1 870.5,569.7 871.2,567.1 871.9,565.7 872.0,565.3 872.6,562.8 873.3,560.0 873.4,559.7 874.0,560.1 874.7,558.6 875.4,555.5 876.1,557.7 876.8,556.2 877.5,557.4 878.2,555.5 878.3,556.1 878.9,556.0 879.6,557.9 880.3,553.8 881.0,553.3 881.7,552.6 882.4,551.1 883.1,551.3 883.8,553.6 884.5,552.0 885.2,550.2 885.9,550.3 886.0,552.0 886.6,552.5 887.3,550.6 888.0,550.8 888.7,551.3 889.4,552.3 890.1,552.8 890.8,551.4 891.5,550.0 892.2,549.8 892.9,551.5 893.6,550.8 894.3,548.3 895.0,549.0 895.7,548.5 896.4,548.0 897.1,547.0 897.8,545.7 898.2,547.2 898.5,546.3 899.2,544.4 899.9,547.4 900.6,545.9 901.3,543.1 902.0,545.9 902.7,544.7 903.4,540.4 904.1,544.8 904.8,542.9 905.5,544.0 906.2,539.0 906.9,540.8 907.0,540.0 907.6,540.2 908.3,539.5 909.0,539.0 909.7,539.8 910.4,535.9 911.1,535.8 911.8,535.2 912.5,535.9 913.2,535.4 913.9,536.4 914.6,535.8 915.3,535.1 916.0,533.6 916.7,533.6 917.0,534.0 917.4,534.9 918.1,533.7 918.8,531.9 919.5,530.4 920.2,532.3 920.9,528.3 921.6,529.3 922.3,529.2 923.0,526.2 923.7,527.0 924.4,523.1 925.1,525.5 925.4,523.6 925.8,524.7 926.5,523.4 927.2,528.2 927.9,527.3 928.6,531.9 929.3,530.5 930.0,532.6 930.7,534.7 931.4,535.7 931.4,535.2 932.1,537.1 932.8,537.0 933.5,539.7 934.2,539.8 934.9,541.1 935.6,538.2 936.3,542.9 936.3,544.4 937.0,542.0 937.7,538.7 938.4,540.2 939.1,539.8 939.8,539.7 939.9,538.1 940.5,536.1 941.2,539.1 941.9,536.1 942.6,539.0 943.3,534.8 944.0,535.4 944.7,533.2 945.4,531.5 946.1,532.5 946.1,534.1 946.8,532.0 947.5,531.1 948.2,528.3 948.9,524.3 949.5,523.6 949.6,520.6 950.3,519.4 951.0,516.5 951.7,513.5 952.4,513.0 953.1,509.2 953.1,509.8 953.8,509.2 954.5,510.4 955.2,510.4 955.9,511.4 956.6,512.8 956.7,511.6 957.3,510.9 958.0,505.4 958.7,501.3 959.4,503.8 959.6,500.5 960.1,495.6 960.8,490.5 961.5,477.8 961.6,480.2 962.2,472.3 962.8,465.8 962.9,465.6 963.6,460.7 964.3,461.0 965.0,462.0 965.7,461.1 966.0,458.0 966.4,460.7 967.1,454.0 967.8,451.5 968.5,454.4 969.2,453.9 969.5,451.3 969.9,453.9 970.6,454.5 971.3,462.9 972.0,465.0 972.0,466.7 972.7,469.4 973.4,470.4 974.1,475.3 974.8,479.5 975.3,480.2 975.5,478.3 976.2,472.8 976.9,474.7 977.6,472.3 978.3,468.5 979.0,467.7 979.6,463.4 979.7,461.9 980.4,461.2 981.1,459.0 981.8,459.2 982.5,459.7 983.2,454.0 983.9,457.3 984.5,451.3 984.6,454.9 985.3,454.9 986.0,456.1 986.7,460.4 987.4,457.8 988.1,459.8 988.1,459.6 988.8,455.7 989.5,457.3 990.2,457.4 990.5,453.7 990.9,457.1 991.6,460.9 992.3,463.5 992.8,466.8 993.0,468.5 993.7,469.7 994.1,475.4 994.4,478.6 995.1,478.0 995.7,480.9 995.8,478.1 996.5,475.3 997.2,471.6 997.9,471.7 998.5,466.8 998.6,469.1 999.3,463.3 1000.0,467.9 1000.1,465.8 1000.7,469.3 1001.4,467.8 1002.1,467.6 1002.8,471.0 1003.5,473.0 1003.7,474.9 1004.2,481.6 1004.9,489.4 1004.9,488.7 1005.6,483.4 1006.3,485.9 1007.0,480.4 1007.7,483.3 1008.4,479.5 1008.4,477.0 1009.1,478.3 1009.8,478.2 1010.5,479.1 1011.2,483.1 1011.9,482.4 1012.6,482.1 1012.7,480.9 1013.3,478.5 1014.0,471.1 1014.7,469.7 1015.4,466.1 1015.5,466.8 1016.1,461.9 1016.8,462.0 1017.5,456.0 1018.2,452.9 1018.3,454.0 1018.9,453.5 1019.6,453.3 1020.3,461.2 1021.0,464.8 1021.2,462.5 1021.7,462.4 1022.4,459.2 1023.1,454.6 1023.8,460.3 1024.0,459.7 1024.5,461.7 1025.2,458.8 1025.9,459.2 1026.6,459.5 1027.3,457.8 1028.0,453.4 1028.3,454.0 1028.7,456.8 1029.4,457.1 1030.1,452.8 1030.8,456.2 1031.5,454.8 1031.8,458.3 1032.2,458.8 1032.9,461.6 1033.6,459.3 1034.3,458.4 1035.0,467.0 1035.7,466.3 1036.0,466.0 1036.4,469.9 1037.1,465.0 1037.8,471.4 1038.5,474.8 1039.2,475.8 1039.6,472.1 1039.9,472.0 1040.6,474.0 1041.3,474.1 1042.0,477.4 1042.7,478.4 1043.4,477.4 1044.0,478.0 1044.1,475.3 1044.8,480.8 1045.5,479.4 1046.2,482.7 1046.9,483.1 1047.6,486.9 1048.3,487.0 1049.0,484.9 1049.5,486.6 1049.7,488.2 1050.4,494.3 1051.1,493.1 1051.6,496.5 1051.8,496.6 1052.5,495.6 1053.2,493.3 1053.9,489.4 1054.6,483.3 1055.2,483.8 1055.3,480.8 1056.0,480.8 1056.7,478.0 1057.4,479.5 1058.1,469.2 1058.8,470.4 1059.4,465.3 1059.5,466.9 1060.2,461.1 1060.9,462.5 1061.6,464.2 1062.3,462.3 1063.0,462.6 1063.7,462.5 1063.7,463.5 1064.4,461.9 1065.1,465.9 1065.8,464.6 1066.5,466.0 1067.2,469.5 1067.9,468.3 1068.6,470.7 1068.6,471.3 1069.3,478.3 1070.0,479.1 1070.7,482.9 1070.8,483.8 1071.4,493.1 1072.1,500.2 1072.2,502.2 1072.8,499.6 1073.5,489.9 1074.2,488.2 1074.9,480.6 1075.0,480.9 1075.6,481.5 1076.0,484.6 1076.3,488.7 1077.0,484.6 1077.7,491.0 1078.4,490.0 1078.9,489.6 1079.1,491.7 1079.8,484.1 1080.5,485.7 1081.2,483.5 1081.9,477.7 1081.9,477.5 1082.6,479.5 1083.3,486.9 1084.0,484.4 1084.7,485.3 1085.4,487.0 1086.0,490.0 1086.1,491.0 1086.8,492.0 1087.5,493.0 1088.2,497.1 1088.9,494.5 1089.6,497.2 1090.0,497.0 1090.3,500.1 1091.0,496.6 1091.7,501.3 1092.4,503.7 1093.1,499.0 1093.8,502.4 1093.8,500.4 1094.5,498.8 1095.2,495.5 1095.9,498.0 1096.6,492.0 1097.3,494.7 1098.0,492.0 1098.0,494.8 1098.7,488.1 1099.4,489.8 1100.1,485.8 1100.8,490.3 1101.5,486.5 1102.2,486.6 1102.9,486.4 1103.6,486.6 1104.0,485.0 1104.3,484.4 1105.0,485.2 1105.7,484.2 1106.4,485.6 1107.1,483.2 1107.8,485.8 1108.5,481.9 1109.2,484.9 1109.9,489.8 1110.0,486.0 1110.6,486.0 1111.3,483.2 1112.0,486.1 1112.7,483.5 1113.4,482.0 1114.1,483.7 1114.8,486.5 1115.5,485.6 1116.2,484.5 1116.6,484.6 1116.9,481.2 1117.6,477.4 1118.3,479.0 1118.6,474.7 1119.0,473.7 1119.7,468.5 1120.4,463.3 1121.1,462.3 1121.5,463.8 1121.8,468.9 1122.5,460.3 1123.2,461.9 1123.9,461.9 1124.5,460.8 1124.6,460.8 1125.3,462.6 1126.0,462.3 1126.5,466.8 1126.7,463.5 1127.4,466.0 1128.1,457.2 1128.8,457.2 1129.5,451.9 1129.5,448.2 1130.2,453.3 1130.9,456.5 1131.6,460.2 1131.9,458.8 1132.3,457.1 1133.0,462.3 1133.7,463.2 1134.4,463.8 1134.4,462.2 1135.1,457.9 1135.8,447.9 1135.9,448.9 1136.5,443.1 1137.2,440.1 1137.9,429.4 1138.4,432.0 1138.6,430.3 1139.3,423.0 1140.0,416.8 1140.7,413.8 1141.4,411.2 1142.0,405.0 1142.1,403.8 1142.8,405.2 1143.5,397.6 1144.2,395.0 1144.9,399.0 1145.6,394.2 1146.0,392.0 1146.3,393.6 1147.0,388.4 1147.7,390.8 1148.4,388.4 1149.1,388.0 1149.8,385.4 1150.0,385.0 1150.5,386.4 1151.2,380.5 1151.9,377.9 1152.6,375.0 1153.3,379.0 1154.0,373.0 1154.7,370.5 1155.0,372.0 1155.4,368.8 1156.1,367.9 1156.8,364.2 1157.5,364.4 1158.2,361.7 1158.9,359.9 1159.6,357.0 1160.0,358.0 1160.3,358.2 1161.0,357.4 1161.7,358.9 1162.4,359.5 1163.1,360.0 1163.8,354.7 1164.5,358.6 1165.0,360.0 1165.2,358.7 1165.9,363.9 1166.6,360.4 1167.3,363.9 1168.0,366.6 1168.7,368.1 1169.4,372.7 1170.0,372.0 1170.1,371.1 1170.8,374.9 1171.5,370.2 1172.2,370.1 1172.9,377.5 1173.6,376.4 1174.3,377.2 1175.0,377.1 1175.6,377.4 1175.7,378.3 1176.4,373.7 1177.1,377.6 1177.8,373.5 1178.5,376.0 1179.2,373.2 1179.9,367.8 1180.0,372.0 1180.6,368.3 1181.3,372.7 1182.0,368.9 1182.7,367.3 1183.4,367.8 1184.1,365.3 1184.8,364.1 1185.0,365.0 1185.5,365.3 1186.2,365.6 1186.9,368.7 1187.6,365.6 1188.3,369.8 1189.0,369.8 1189.7,369.7 1190.0,366.0 1190.4,368.8 1191.1,367.6 1191.8,368.5 1192.5,368.7 1193.2,368.2 1193.9,370.5 1194.6,370.1 1195.0,372.0 1195.3,376.1 1196.0,374.8 1196.7,373.7 1197.4,371.6 1198.1,376.8 1198.8,377.2 1199.5,376.8 1200.0,380.0 1200.2,377.9 1200.9,376.8 1201.6,384.5 1202.3,384.5 1203.0,391.7 1203.7,387.3 1204.4,388.5 1205.0,390.0 1205.1,393.4 1205.8,391.9 1206.5,393.4 1207.2,393.6 1207.9,394.5 1208.6,400.5 1209.3,400.8 1210.0,403.8 1210.7,400.6 1211.0,402.0 1211.4,404.8 1212.1,407.5 1212.8,416.4 1213.5,419.0 1213.5,415.9 1214.2,417.6 1214.9,416.2 1215.6,414.3 1216.3,406.5 1217.0,406.0 1217.0,408.4 1217.7,408.8 1218.4,413.0 1219.1,416.2 1219.8,426.0 1220.5,431.4 1221.2,430.8 1221.5,434.0 1221.9,430.5 1222.6,428.2 1223.3,431.3 1224.0,424.8 1224.7,418.2 1225.0,418.0 1225.4,413.5 1226.1,415.1 1226.8,418.2 1227.5,418.8 1228.2,413.1 1228.9,411.3 1229.6,410.7 1230.3,406.8 1231.0,410.0 1231.0,412.0 1231.7,410.4 1232.4,417.9 1233.1,414.6 1233.8,418.4 1234.5,424.6 1235.2,425.1 1235.9,431.3 1236.0,430.0 1236.6,431.1 1237.3,429.9 1238.0,435.1 1238.7,436.9 1239.4,432.2 1240.1,441.7 1240.8,440.1 1241.5,442.0 1241.7,440.7 1242.2,434.8 1242.9,434.7 1243.6,433.0 1244.3,433.6 1245.0,425.4 1245.7,424.2 1246.0,425.0 1246.4,419.8 1247.1,422.5 1247.8,422.6 1248.5,416.9 1249.2,418.1 1249.9,419.3 1250.0,418.0 1250.6,418.8 1251.3,413.6 1252.0,408.3 1252.7,403.3 1253.4,400.6 1254.0,400.0 1254.1,398.3 1254.8,398.3 1255.5,396.1 1256.2,398.2 1256.9,393.4 1257.6,388.6 1258.0,390.0 1258.3,392.5 1259.0,389.1 1259.7,385.1 1260.4,381.2 1261.1,376.6 1261.8,376.4 1262.5,378.5 1263.0,375.0 1263.2,372.8 1263.9,370.3 1264.6,372.2 1265.3,370.9 1266.0,370.3 1266.7,369.0 1267.4,369.3 1268.0,365.0 1268.1,363.0 1268.8,366.2 1269.5,361.1 1270.2,364.0 1270.9,362.0 1271.6,361.3 1272.3,362.1 1273.0,359.1 1273.7,360.8 1274.0,358.0 1274.4,359.7 1275.1,357.7 1275.8,355.9 1276.5,355.1 1277.2,355.2 1277.9,355.6 1278.0,356.0 1278.6,358.8 1279.3,368.7 1280.0,366.8 1280.7,370.3 1281.2,371.0 1281.4,367.7 1282.1,363.3 1282.8,359.4 1283.5,355.8 1284.0,352.0 1284.2,349.8 1284.9,355.9 1285.6,351.4 1286.3,355.3 1287.0,348.1 1287.7,353.5 1288.4,354.4 1289.0,354.0 1289.1,354.9 1289.8,358.9 1290.5,361.4 1291.2,364.3 1291.9,363.0 1292.6,368.7 1293.2,373.0 1293.3,367.1 1294.0,368.4 1294.7,362.4 1295.4,356.1 1296.0,352.0 1296.1,350.1 1296.8,349.8 1297.5,354.3 1298.2,353.2 1298.9,348.4 1299.6,350.5 1300.3,343.3 1301.0,341.7 1301.7,344.1 1302.4,342.4 1303.1,342.2 1303.8,343.0 1304.5,348.4 1304.8,341.4 1305.2,337.9 1305.9,335.8 1306.3,333.6 1306.6,333.3 1307.3,330.4 1308.0,330.3 1308.7,330.0 1309.4,321.1 1310.0,322.0 1310.1,322.3 1310.8,321.1 1311.5,322.2 1312.2,317.8 1312.9,317.0 1313.6,315.5 1314.3,321.4 1315.0,320.0 1315.0,320.4 1315.7,319.8 1316.4,314.0 1317.1,318.0 1317.8,316.7 1318.5,314.9 1319.2,315.6 1319.9,318.7 1320.6,318.0 1321.3,316.4 1322.0,316.0 1322.0,317.1 1322.7,314.0 1323.4,314.8 1324.1,314.1 1324.8,314.6 1325.5,312.5 1326.2,311.7 1326.9,311.1 1327.6,309.3 1328.3,314.9 1329.0,310.5 1329.7,308.7 1329.7,309.6 1330.4,317.2 1331.1,318.7 1331.8,315.6 1332.0,320.0 1332.5,324.0 1333.2,327.8 1333.9,333.6 1334.6,335.9 1335.0,335.0 1335.3,337.1 1336.0,333.8 1336.7,335.5 1337.4,339.0 1338.1,340.5 1338.8,338.1 1339.5,340.5 1340.0,342.0 1340.2,341.0 1340.9,341.8 1341.6,342.1 1342.3,340.4 1343.0,338.1 1343.7,343.3 1344.4,343.8 1345.0,340.0 1345.1,339.7 1345.8,341.5 1346.5,339.5 1347.2,339.3 1347.9,338.2 1348.6,334.7 1349.0,336.0 1349.3,336.9 1350.0,336.9 1350.7,331.8 1351.4,337.1 1352.0,332.0 1352.1,336.8 1352.8,337.6 1353.5,339.4 1354.2,338.0 1354.9,337.1 1355.6,337.9 1356.0,340.0 1356.3,339.0 1357.0,343.0 1357.7,344.7 1358.4,348.2 1359.1,344.2 1359.3,349.2 1359.8,350.5 1360.5,345.2 1361.2,334.8 1361.9,329.6 1361.9,331.1 1362.6,325.5 1363.3,319.9 1364.0,313.6 1364.2,312.6 1364.7,310.5 1365.4,306.5 1366.1,306.2 1366.4,304.7 1366.8,305.2 1367.5,307.0 1368.2,305.5 1368.7,308.1 1368.9,312.1 1369.6,325.8 1369.8,329.6 1370.3,334.3 1371.0,335.3 1371.5,341.0 1371.7,343.0 1372.4,347.9 1373.1,350.8 1373.2,350.0 1373.8,347.7 1374.5,345.8 1375.2,344.6 1375.5,344.4 1375.9,350.5 1376.6,356.8" fill="none" stroke="#f09a30" stroke-width="3.4" stroke-linejoin="round" stroke-linecap="round"/><circle cx="88.5" cy="622.7" r="14.65" fill="#f46b33" stroke="#fff6ec" stroke-width="2.9"/><circle cx="145.3" cy="599.2" r="7.55" fill="#f46b33" stroke="#fff6ec" stroke-width="2.9"/><circle cx="156.3" cy="589" r="17.55" fill="#f46b33" stroke="#fff6ec" stroke-width="2.9"/><circle cx="178.4" cy="560.8" r="4.55" fill="#f46b33" stroke="#fff6ec" stroke-width="2.9"/><circle cx="186.4" cy="553.2" r="5.05" fill="#f46b33" stroke="#fff6ec" stroke-width="2.9"/><circle cx="201.7" cy="514" r="14.65" fill="#f46b33" stroke="#fff6ec" stroke-width="2.9"/><circle cx="203.6" cy="513.6" r="3.55" fill="#f46b33" stroke="#fff6ec" stroke-width="2.9"/><circle cx="207.6" cy="516.5" r="3.55" fill="#f46b33" stroke="#fff6ec" stroke-width="2.9"/><circle cx="212.6" cy="492.7" r="4.55" fill="#f46b33" stroke="#fff6ec" stroke-width="2.9"/><circle cx="229" cy="487.8" r="4.55" fill="#f46b33" stroke="#fff6ec" stroke-width="2.9"/><circle cx="255.6" cy="514" r="4.55" fill="#f46b33" stroke="#fff6ec" stroke-width="2.9"/><circle cx="258.6" cy="533" r="4.55" fill="#f46b33" stroke="#fff6ec" stroke-width="2.9"/><circle cx="282.3" cy="564" r="12.05" fill="#f46b33" stroke="#fff6ec" stroke-width="2.9"/><circle cx="325.9" cy="514.4" r="9.05" fill="#f46b33" stroke="#fff6ec" stroke-width="2.9"/><circle cx="339.8" cy="524.4" r="8.55" fill="#f46b33" stroke="#fff6ec" stroke-width="2.9"/><circle cx="393.9" cy="491" r="9.85" fill="#f46b33" stroke="#fff6ec" stroke-width="2.9"/><circle cx="400.3" cy="520" r="5.75" fill="#f46b33" stroke="#fff6ec" stroke-width="2.9"/><circle cx="415.2" cy="521.6" r="6.45" fill="#f46b33" stroke="#fff6ec" stroke-width="2.9"/><circle cx="437" cy="545.4" r="4.95" fill="#f46b33" stroke="#fff6ec" stroke-width="2.9"/><circle cx="480.6" cy="522.5" r="8.95" fill="#f46b33" stroke="#fff6ec" stroke-width="2.9"/><circle cx="540.4" cy="596.5" r="4.25" fill="#f46b33" stroke="#fff6ec" stroke-width="2.9"/><circle cx="597.8" cy="599.8" r="4.75" fill="#f46b33" stroke="#fff6ec" stroke-width="2.9"/><circle cx="665.4" cy="606.1" r="6.95" fill="#f46b33" stroke="#fff6ec" stroke-width="2.9"/><circle cx="725.2" cy="573.2" r="9.05" fill="#f46b33" stroke="#fff6ec" stroke-width="2.9"/><circle cx="734.9" cy="574.2" r="5.75" fill="#f46b33" stroke="#fff6ec" stroke-width="2.9"/><circle cx="791.9" cy="568.9" r="12.55" fill="#f46b33" stroke="#fff6ec" stroke-width="2.9"/><circle cx="814.6" cy="571" r="4.95" fill="#f46b33" stroke="#fff6ec" stroke-width="2.9"/><circle cx="852.8" cy="579.5" r="9.65" fill="#f46b33" stroke="#fff6ec" stroke-width="2.9"/><circle cx="878.3" cy="556.1" r="4.05" fill="#f46b33" stroke="#fff6ec" stroke-width="2.9"/><circle cx="898.2" cy="547.2" r="13.65" fill="#f46b33" stroke="#fff6ec" stroke-width="2.9"/><circle cx="917" cy="534" r="13.75" fill="#f46b33" stroke="#fff6ec" stroke-width="2.9"/><circle cx="946.1" cy="532.5" r="5.55" fill="#f46b33" stroke="#fff6ec" stroke-width="2.9"/><circle cx="959.6" cy="500.5" r="7.55" fill="#f46b33" stroke="#fff6ec" stroke-width="2.9"/><circle cx="969.5" cy="451.3" r="12.45" fill="#f46b33" stroke="#fff6ec" stroke-width="2.9"/><circle cx="975.3" cy="480.2" r="11.85" fill="#f46b33" stroke="#fff6ec" stroke-width="2.9"/><circle cx="1003.7" cy="474.7" r="3.85" fill="#f46b33" stroke="#fff6ec" stroke-width="2.9"/><circle cx="1039.6" cy="472.1" r="12.75" fill="#f46b33" stroke="#fff6ec" stroke-width="2.9"/><circle cx="1068.6" cy="470.7" r="3.75" fill="#f46b33" stroke="#fff6ec" stroke-width="2.9"/><circle cx="1097.5" cy="485" r="14.05" fill="#f46b33" stroke="#fff6ec" stroke-width="2.9"/><circle cx="1102.2" cy="476.7" r="11.15" fill="#f46b33" stroke="#fff6ec" stroke-width="2.9"/><circle cx="1138.8" cy="428.5" r="18.05" fill="#f46b33" stroke="#fff6ec" stroke-width="2.9"/><circle cx="1144.5" cy="399" r="22.05" fill="#f46b33" stroke="#fff6ec" stroke-width="2.9"/><circle cx="1148" cy="394" r="22.05" fill="#f46b33" stroke="#fff6ec" stroke-width="2.9"/><circle cx="1153.3" cy="387.1" r="13.25" fill="#f46b33" stroke="#fff6ec" stroke-width="2.9"/><circle cx="1158.8" cy="372.4" r="15.55" fill="#f46b33" stroke="#fff6ec" stroke-width="2.9"/><circle cx="1163.5" cy="356.7" r="13.35" fill="#f46b33" stroke="#fff6ec" stroke-width="2.9"/><circle cx="1167.1" cy="388.1" r="5.95" fill="#f46b33" stroke="#fff6ec" stroke-width="2.9"/><circle cx="1172.7" cy="393.6" r="6.55" fill="#f46b33" stroke="#fff6ec" stroke-width="2.9"/><circle cx="1182.8" cy="389" r="5.95" fill="#f46b33" stroke="#fff6ec" stroke-width="2.9"/><circle cx="1180.5" cy="364" r="8.55" fill="#f46b33" stroke="#fff6ec" stroke-width="2.9"/><circle cx="1190.5" cy="366.5" r="12.35" fill="#f46b33" stroke="#fff6ec" stroke-width="2.9"/><circle cx="1202.2" cy="379.5" r="10.05" fill="#f46b33" stroke="#fff6ec" stroke-width="2.9"/><circle cx="1212" cy="397.5" r="15.55" fill="#f46b33" stroke="#fff6ec" stroke-width="2.9"/><circle cx="1231.1" cy="408.2" r="8.55" fill="#f46b33" stroke="#fff6ec" stroke-width="2.9"/><circle cx="1235.5" cy="423" r="14.95" fill="#f46b33" stroke="#fff6ec" stroke-width="2.9"/><circle cx="1244.5" cy="419.5" r="5.95" fill="#f46b33" stroke="#fff6ec" stroke-width="2.9"/><circle cx="1250.9" cy="415.2" r="8.85" fill="#f46b33" stroke="#fff6ec" stroke-width="2.9"/><circle cx="1255.5" cy="388" r="13.55" fill="#f46b33" stroke="#fff6ec" stroke-width="2.9"/><circle cx="1259.5" cy="389.7" r="7.45" fill="#f46b33" stroke="#fff6ec" stroke-width="2.9"/><circle cx="1265" cy="367.9" r="12.05" fill="#f46b33" stroke="#fff6ec" stroke-width="2.9"/><circle cx="1268" cy="360" r="9.05" fill="#f46b33" stroke="#fff6ec" stroke-width="2.9"/><circle cx="1273.6" cy="348" r="8.05" fill="#f46b33" stroke="#fff6ec" stroke-width="2.9"/><circle cx="1284.5" cy="353.9" r="9.05" fill="#f46b33" stroke="#fff6ec" stroke-width="2.9"/><circle cx="1290" cy="356" r="8.55" fill="#f46b33" stroke="#fff6ec" stroke-width="2.9"/><circle cx="1298.5" cy="350.8" r="7.85" fill="#f46b33" stroke="#fff6ec" stroke-width="2.9"/><circle cx="1307.9" cy="318" r="7.55" fill="#f46b33" stroke="#fff6ec" stroke-width="2.9"/><circle cx="1318.8" cy="324.3" r="15.25" fill="#f46b33" stroke="#fff6ec" stroke-width="2.9"/><circle cx="1327.9" cy="321.7" r="3.95" fill="#f46b33" stroke="#fff6ec" stroke-width="2.9"/><circle cx="1333" cy="328.5" r="4.25" fill="#f46b33" stroke="#fff6ec" stroke-width="2.9"/><circle cx="1335.9" cy="345.5" r="6.55" fill="#f46b33" stroke="#fff6ec" stroke-width="2.9"/><circle cx="1340.4" cy="343.2" r="6.55" fill="#f46b33" stroke="#fff6ec" stroke-width="2.9"/><circle cx="1346" cy="340.4" r="5.55" fill="#f46b33" stroke="#fff6ec" stroke-width="2.9"/><circle cx="1352.3" cy="329.6" r="4.25" fill="#f46b33" stroke="#fff6ec" stroke-width="2.9"/><circle cx="1356.2" cy="338.7" r="5.05" fill="#f46b33" stroke="#fff6ec" stroke-width="2.9"/><circle cx="1361.9" cy="333.6" r="3.65" fill="#f46b33" stroke="#fff6ec" stroke-width="2.9"/><circle cx="1371.5" cy="331.3" r="3.65" fill="#f46b33" stroke="#fff6ec" stroke-width="2.9"/><line x1="553.7" y1="247" x2="570.6" y2="247" stroke="#f0972a" stroke-width="2.2"/><text x="574.5" y="250.3" font-family="Liberation Sans" font-size="12" fill="#b9bdc7">Bitcoin Price (</text><defs><radialGradient id="em" cx="0.4" cy="0.35" r="0.7"><stop offset="0" stop-color="#ffa04a"/><stop offset="1" stop-color="#f0562a"/></radialGradient></defs><circle cx="657" cy="246.2" r="6.3" fill="url(#em)"/><text x="668" y="250.3" font-family="Liberation Sans" font-size="12" fill="#b9bdc7">= Strategy Purchase)</text><line x1="788.7" y1="246.7" x2="806" y2="246.7" stroke="#2aa98f" stroke-width="2.2" stroke-dasharray="8 4"/><text x="809.9" y="250.3" font-family="Liberation Sans" font-size="12" fill="#b9bdc7">Average Purchase Price</text><circle cx="37.8" cy="705" r="5" fill="#f0972a" stroke="#fdf6ee" stroke-width="1.6"/><text x="52.7" y="710" font-family="Liberation Sans" font-size="11.6" fill="#b9bdc7">Bitcoin Purchase by Strategy</text><rect x="511.8" y="704" width="12" height="6" fill="#f0972a"/><text x="532.3" y="710" font-family="Liberation Sans" font-size="11.6" fill="#b9bdc7">Bitcoin Price Trend</text><rect x="990.8" y="704" width="12.3" height="6" fill="#2aa98f"/><text x="1012.8" y="710" font-family="Liberation Sans" font-size="11.3" fill="#b9bdc7">Average Purchase Price</text></svg>
</body></html>
